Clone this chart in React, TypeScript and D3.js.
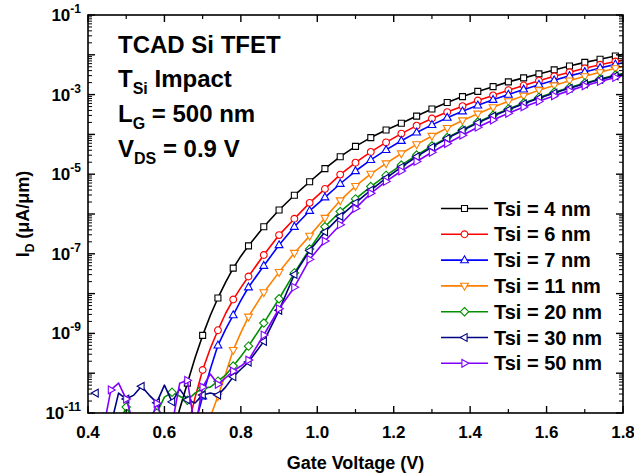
import React from 'react';
import * as d3 from 'd3';

// Gate voltage grid (V): fine steps in the noisy sub-threshold region, then 0.04 V steps
const gateVoltage = [
  0.40, 0.42, 0.44, 0.46, 0.48, 0.50, 0.52, 0.54, 0.56, 0.58, 0.60,
  0.62, 0.64, 0.66, 0.68, 0.70, 0.72, 0.74, 0.76, 0.78, 0.80,
  0.82, 0.86, 0.90, 0.94, 0.98, 1.02, 1.06, 1.10, 1.14, 1.18, 1.22,
  1.26, 1.30, 1.34, 1.38, 1.42, 1.46, 1.50, 1.54, 1.58, 1.62, 1.66,
  1.70, 1.74, 1.78, 1.80,
];

// log10(I_D [uA/um]) for each Tsi; null = below the plotted range
const logId4nm = [
  null, null, null, null, null, null, null, null, null, null, null,
  -11.6, -10.9, -10.25, -9.62, -9.05, -8.55, -8.11, -7.72, -7.36, -7.06,
  -6.80, -6.32, -5.90, -5.53, -5.19, -4.86, -4.56, -4.30, -4.08, -3.89, -3.72,
  -3.54, -3.36, -3.20, -3.05, -2.92, -2.80, -2.68, -2.58, -2.48, -2.38, -2.28,
  -2.19, -2.11, -2.03, -1.99,
];
const logId6nm = [
  null, null, null, null, null, null, null, null, null, null, null,
  null, null, -11.4, -10.62, -9.92, -9.38, -8.92, -8.50, -8.15, -7.85,
  -7.57, -7.03, -6.53, -6.12, -5.72, -5.37, -5.01, -4.71, -4.44, -4.20, -3.98,
  -3.78, -3.60, -3.44, -3.29, -3.15, -3.02, -2.89, -2.77, -2.65, -2.54, -2.44,
  -2.34, -2.25, -2.17, -2.13,
];
const logId7nm = [
  null, null, null, null, null, null, null, null, null, null, null,
  null, null, null, -11.3, -10.58, -9.90, -9.30, -8.90, -8.54, -8.17,
  -7.84, -7.30, -6.78, -6.32, -5.92, -5.58, -5.24, -4.92, -4.64, -4.39, -4.16,
  -3.95, -3.76, -3.58, -3.42, -3.27, -3.13, -3.00, -2.87, -2.75, -2.64, -2.53,
  -2.43, -2.33, -2.24, -2.20,
];
const logId11nm = [
  null, null, null, null, null, null, null, null, null, null, null,
  null, null, null, null, null, -11.1, -10.58, -10.02, -9.42, -8.98,
  -8.58, -7.97, -7.46, -6.98, -6.55, -6.10, -5.66, -5.30, -4.99, -4.73, -4.48,
  -4.25, -4.04, -3.84, -3.65, -3.48, -3.32, -3.17, -3.03, -2.89, -2.77, -2.65,
  -2.54, -2.44, -2.34, -2.29,
];
const logId20nm = [
  null, -11.4, -11.0, -11.5, -11.3, -10.85, -11.2, -11.5, -11.3, -11.0, -10.6,
  -10.48, -10.58, -10.68, -10.5, -10.38, -10.35, -10.20, -10.05, -9.82, -9.58,
  -9.32, -8.74, -8.13, -7.48, -6.88, -6.32, -5.94, -5.62, -5.31, -5.03, -4.77,
  -4.52, -4.29, -4.08, -3.88, -3.69, -3.52, -3.36, -3.21, -3.07, -2.94, -2.82,
  -2.71, -2.61, -2.51, -2.47,
];
const logId30nm = [
  null, -10.5, null, -11.3, -10.5, -10.65, -10.55, -10.33, -10.55, -10.74, -10.3,
  -10.72, -10.40, -10.67, -10.75, -10.55, -10.50, -10.55, -10.35, -10.09, -9.90,
  -9.72, -9.20, -8.42, -7.52, -6.92, -6.45, -6.06, -5.72, -5.40, -5.10, -4.82,
  -4.56, -4.32, -4.10, -3.90, -3.71, -3.54, -3.38, -3.23, -3.09, -2.96, -2.84,
  -2.73, -2.62, -2.53, -2.49,
];
const logId50nm = [
  null, null, -11.4, -10.42, -10.25, -10.65, -11.3, -11.6, -11.3, -10.76, -11.3,
  -11.3, -10.25, -10.18, -11.4, -10.35, -10.02, -10.28, -10.12, -9.95, -9.82,
  -9.67, -9.04, -8.38, -7.84, -7.14, -6.68, -6.27, -5.86, -5.48, -5.18, -4.92,
  -4.68, -4.45, -4.23, -4.02, -3.82, -3.64, -3.47, -3.31, -3.17, -3.03, -2.90,
  -2.78, -2.67, -2.57, -2.52,
];

const seriesLabels = [
  'Tsi = 4 nm', 'Tsi = 6 nm', 'Tsi = 7 nm', 'Tsi = 11 nm',
  'Tsi = 20 nm', 'Tsi = 30 nm', 'Tsi = 50 nm',
];
const seriesValues = [logId4nm, logId6nm, logId7nm, logId11nm, logId20nm, logId30nm, logId50nm];
const seriesColors = ['#000000', '#ff0000', '#0000ff', '#ff8000', '#009000', '#000080', '#8000ff'];
const seriesMarkers = ['square', 'circle', 'up', 'down', 'diamond', 'left', 'right'];

const xTickValues = [0.4, 0.6, 0.8, 1.0, 1.2, 1.4, 1.6, 1.8];
const xMinorTicks = [0.5, 0.7, 0.9, 1.1, 1.3, 1.5, 1.7];
const yLabelExponents = [-1, -3, -5, -7, -9, -11];

const W = 634;
const H = 476;
const M = { left: 88, right: 623, top: 15, bottom: 413 };
const FONT = '"Liberation Sans", Arial, sans-serif';

function markerPath(shape: string): string {
  switch (shape) {
    case 'square':
      return 'M-3,-3H3V3H-3Z';
    case 'circle':
      return 'M3.4,0A3.4,3.4 0 1,1 -3.4,0A3.4,3.4 0 1,1 3.4,0Z';
    case 'up':
      return 'M0,-4.3L3.9,2.6L-3.9,2.6Z';
    case 'down':
      return 'M0,4.3L3.9,-2.6L-3.9,-2.6Z';
    case 'diamond':
      return 'M0,-4.2L4.2,0L0,4.2L-4.2,0Z';
    case 'left':
      return 'M-4.3,0L2.6,-3.9L2.6,3.9Z';
    case 'right':
      return 'M4.3,0L-2.6,-3.9L-2.6,3.9Z';
    default:
      return '';
  }
}

function isMarkerVoltage(v: number): boolean {
  const k = (v - 0.42) / 0.04;
  return Math.abs(k - Math.round(k)) < 1e-6 && v < 1.79;
}

export default function App() {
  const x = d3.scaleLinear().domain([0.4, 1.8]).range([M.left, M.right]);
  const y = d3.scaleLog().domain([1e-11, 1e-1]).range([M.bottom, M.top]);

  const line = d3
    .line<[number, number | null]>()
    .defined((d) => d[1] !== null)
    .x((d) => x(d[0]))
    .y((d) => y(Math.pow(10, d[1] as number)));

  const decades = d3.range(-11, 0);
  const yMinor: number[] = [];
  decades.slice(0, -1).forEach((e) => {
    for (let m = 2; m <= 9; m++) yMinor.push(m * Math.pow(10, e));
  });

  const legendX0 = 441;
  const legendX1 = 488;
  const legendY0 = 208.5;
  const legendDy = 25.8;

  return (
    <div style={{ position: 'absolute', left: 0, top: 0 }}>
      <svg width={W} height={H} style={{ display: 'block', background: '#fff' }} fontFamily={FONT}>
        <defs>
          <clipPath id="plotClip">
            <rect x={M.left} y={M.top} width={M.right - M.left} height={M.bottom - M.top} />
          </clipPath>
        </defs>
        <rect x={0} y={0} width={W} height={H} fill="#fff" />

        {/* data */}
        <g clipPath="url(#plotClip)">
          {seriesValues.map((vals, si) => {
            const pts = gateVoltage.map((v, i) => [v, vals[i]] as [number, number | null]);
            return (
              <g key={si}>
                <path d={line(pts) || ''} fill="none" stroke={seriesColors[si]} strokeWidth={1.6} strokeLinejoin="round" />
                {pts
                  .filter((p) => p[1] !== null && isMarkerVoltage(p[0]))
                  .map((p, j) => (
                    <path
                      key={j}
                      d={markerPath(seriesMarkers[si])}
                      transform={`translate(${x(p[0])},${y(Math.pow(10, p[1] as number))})`}
                      fill="#fff"
                      stroke={seriesColors[si]}
                      strokeWidth={1.1}
                    />
                  ))}
              </g>
            );
          })}
        </g>

        {/* frame */}
        <rect
          x={M.left}
          y={M.top}
          width={M.right - M.left}
          height={M.bottom - M.top}
          fill="none"
          stroke="#000"
          strokeWidth={1.6}
        />

        {/* x ticks */}
        {xTickValues.map((t) => (
          <g key={'xt' + t}>
            <line x1={x(t)} x2={x(t)} y1={M.bottom} y2={M.bottom - 7} stroke="#000" strokeWidth={1.4} />
            <line x1={x(t)} x2={x(t)} y1={M.top} y2={M.top + 7} stroke="#000" strokeWidth={1.4} />
            <text x={x(t)} y={438} textAnchor="middle" fontSize={17} fontWeight="bold">
              {t.toFixed(1)}
            </text>
          </g>
        ))}
        {xMinorTicks.map((t) => (
          <g key={'xm' + t}>
            <line x1={x(t)} x2={x(t)} y1={M.bottom} y2={M.bottom - 4} stroke="#000" strokeWidth={1.2} />
            <line x1={x(t)} x2={x(t)} y1={M.top} y2={M.top + 4} stroke="#000" strokeWidth={1.2} />
          </g>
        ))}

        {/* y ticks */}
        {decades.map((e) => {
          const yy = y(Math.pow(10, e));
          return (
            <g key={'yd' + e}>
              <line x1={M.left} x2={M.left + 7} y1={yy} y2={yy} stroke="#000" strokeWidth={1.4} />
              <line x1={M.right} x2={M.right - 7} y1={yy} y2={yy} stroke="#000" strokeWidth={1.4} />
            </g>
          );
        })}
        {yMinor.map((v, i) => {
          const yy = y(v);
          return (
            <g key={'ym' + i}>
              <line x1={M.left} x2={M.left + 4} y1={yy} y2={yy} stroke="#000" strokeWidth={1} />
              <line x1={M.right} x2={M.right - 4} y1={yy} y2={yy} stroke="#000" strokeWidth={1} />
            </g>
          );
        })}
        {yLabelExponents.map((e) => (
          <text key={'yl' + e} x={81} y={y(Math.pow(10, e)) + 6} textAnchor="end" fontSize={17} fontWeight="bold">
            <tspan>10</tspan>
            <tspan fontSize={12} dy={-8}>
              {String(e)}
            </tspan>
          </text>
        ))}

        {/* axis titles */}
        <text x={355.5} y={469} textAnchor="middle" fontSize={18} fontWeight="bold">
          Gate Voltage (V)
        </text>
        <text transform="translate(29,214) rotate(-90)" textAnchor="middle" fontSize={18} fontWeight="bold">
          <tspan>I</tspan>
          <tspan fontSize={12} dy={5}>D</tspan>
          <tspan dy={-5}> (μA/μm)</tspan>
        </text>

        {/* annotation */}
        <g fontWeight="bold" fontSize={24}>
          <text x={118} y={53}>TCAD Si TFET</text>
          <text x={118} y={87}>
            <tspan>T</tspan>
            <tspan fontSize={16} dy={7}>Si</tspan>
            <tspan dy={-7}> Impact</tspan>
          </text>
          <text x={118} y={122}>
            <tspan>L</tspan>
            <tspan fontSize={16} dy={7}>G</tspan>
            <tspan dy={-7}> = 500 nm</tspan>
          </text>
          <text x={118} y={157}>
            <tspan>V</tspan>
            <tspan fontSize={16} dy={7}>DS</tspan>
            <tspan dy={-7}> = 0.9 V</tspan>
          </text>
        </g>

        {/* legend */}
        {seriesLabels.map((lab, i) => {
          const ly = legendY0 + i * legendDy;
          return (
            <g key={'lg' + i}>
              <line x1={legendX0} x2={legendX1} y1={ly} y2={ly} stroke={seriesColors[i]} strokeWidth={1.6} />
              <path
                d={markerPath(seriesMarkers[i])}
                transform={`translate(${(legendX0 + legendX1) / 2},${ly})`}
                fill="#fff"
                stroke={seriesColors[i]}
                strokeWidth={1.1}
              />
              <text x={494} y={ly + 7} fontSize={20} fontWeight="bold">
                {lab}
              </text>
            </g>
          );
        })}
      </svg>
    </div>
  );
}
